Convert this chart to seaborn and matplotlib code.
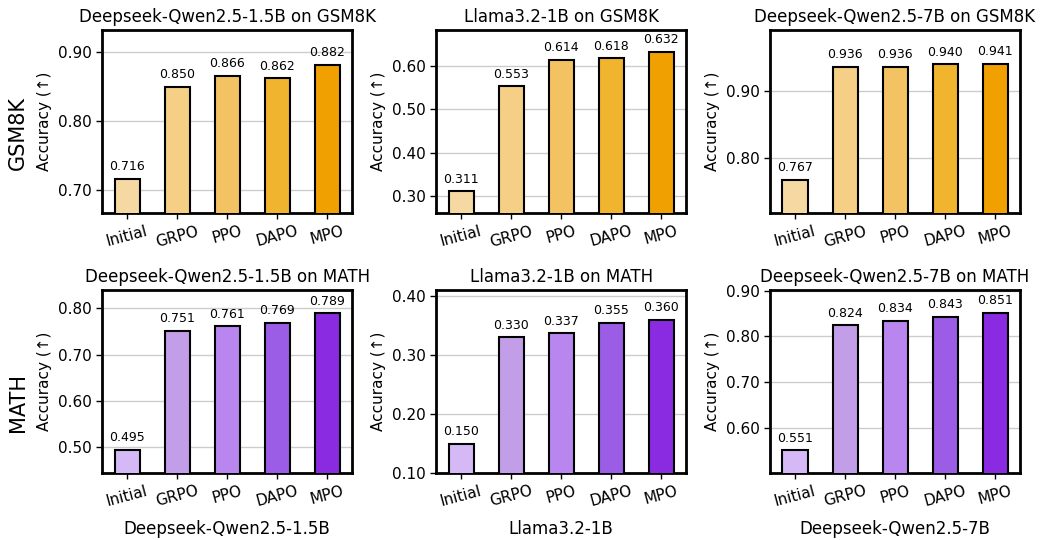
import numpy as np
import pandas as pd
import matplotlib
matplotlib.use("Agg")
import matplotlib.pyplot as plt
import seaborn as sns

methods = ["Initial", "GRPO", "PPO", "DAPO", "MPO"]
models = ["Deepseek-Qwen2.5-1.5B", "Llama3.2-1B", "Deepseek-Qwen2.5-7B"]
datasets = ["GSM8K", "MATH"]

gsm8k_ds15 = [0.716, 0.850, 0.866, 0.862, 0.882]
gsm8k_llama = [0.311, 0.553, 0.614, 0.618, 0.632]
gsm8k_ds7 = [0.767, 0.936, 0.936, 0.940, 0.941]
math_ds15 = [0.495, 0.751, 0.761, 0.769, 0.789]
math_llama = [0.150, 0.330, 0.337, 0.355, 0.360]
math_ds7 = [0.551, 0.824, 0.834, 0.843, 0.851]

orange_colors = ["#F6D9A2", "#F4CF85", "#F3C262", "#F0B42E", "#F0A000"]
purple_colors = ["#D4B9F6", "#C29DE8", "#B886EE", "#9B5DE5", "#8A2BE2"]

values = {
    ("GSM8K", 0): gsm8k_ds15, ("GSM8K", 1): gsm8k_llama, ("GSM8K", 2): gsm8k_ds7,
    ("MATH", 0): math_ds15, ("MATH", 1): math_llama, ("MATH", 2): math_ds7,
}

sns.set_theme(style="white", rc={"text.color": "black", "axes.labelcolor": "black",
                                 "xtick.color": "black", "ytick.color": "black"})
plt.rcParams['font.family'] = ['DejaVu Sans']

fig, axes = plt.subplots(2, 3, figsize=(10.42, 5.4), dpi=100)
fig.subplots_adjust(left=0.098, right=0.979, top=0.944, bottom=0.124, wspace=0.335, hspace=0.42)

for r, ds in enumerate(datasets):
    pal = orange_colors if ds == "GSM8K" else purple_colors
    for c, model in enumerate(models):
        ax = axes[r, c]
        vals = values[(ds, c)]
        df = pd.DataFrame({"method": methods, "acc": vals})
        sns.barplot(data=df, x="method", y="acc", hue="method", order=methods,
                    hue_order=methods, palette=pal, width=0.5, edgecolor="black",
                    linewidth=1.5, legend=False, ax=ax, zorder=3, saturation=1)
        span = max(vals) - min(vals) + 0.1
        for i, v in enumerate(vals):
            ax.text(i, v + 0.03 * span, f"{v:.3f}",
                    ha="center", va="bottom", fontsize=9, color="black")
        ax.set_ylim(min(vals) - 0.05, max(vals) + 0.05)
        ax.set_xlim(-0.5, 4.5)
        ax.yaxis.set_major_formatter(matplotlib.ticker.FormatStrFormatter("%.2f"))
        ax.yaxis.set_major_locator(matplotlib.ticker.MultipleLocator(0.1))
        ax.grid(axis="y", color="#cccccc", linewidth=1, zorder=0)
        ax.set_axisbelow(True)
        ax.set_title(f"{model} on {ds}", fontsize=12)
        ax.set_ylabel("Accuracy (↑)", fontsize=11)
        ax.set_xlabel(model if r == 1 else "", fontsize=12, labelpad=8)
        ax.tick_params(axis="x", labelrotation=15, labelsize=11, length=4, width=1, bottom=True)
        ax.tick_params(axis="y", labelsize=11, length=4, width=1, left=True)
        for sp in ax.spines.values():
            sp.set_linewidth(2)
            sp.set_color("black")

fig.text(0.008, 0.753, "GSM8K", rotation=90, fontsize=15, va="center", ha="left")
fig.text(0.008, 0.254, "MATH", rotation=90, fontsize=15, va="center", ha="left")

fig.savefig("out.png", dpi=100)
